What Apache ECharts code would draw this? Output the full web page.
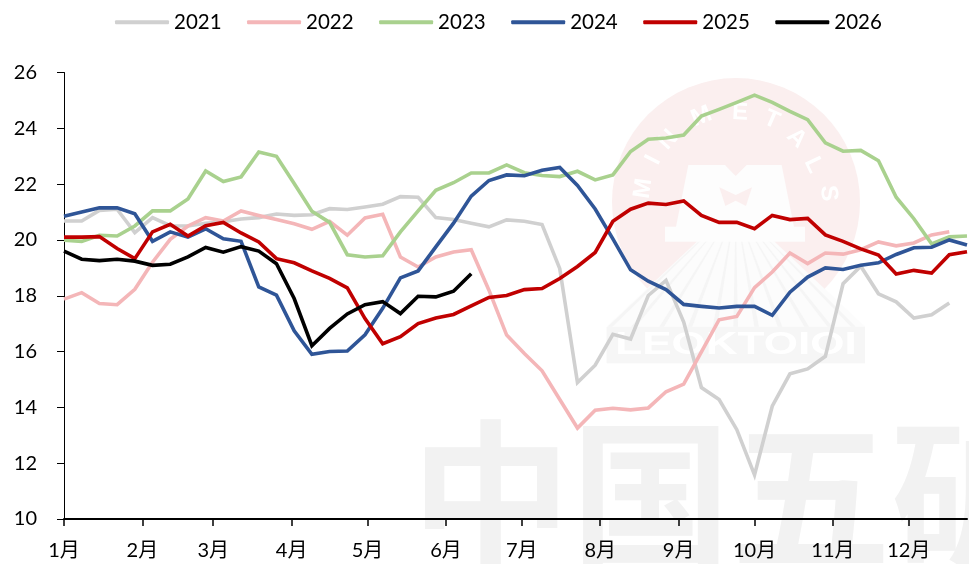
<!DOCTYPE html>
<html><head><meta charset="utf-8">
<style>html,body{margin:0;padding:0;background:#fff}#c{width:969px;height:564px}</style>
<script src="https://cdn.jsdelivr.net/npm/echarts@6/dist/echarts.min.js"></script>
</head><body><div id="c"></div>
<script>
const monthLabels=['1月','2月','3月','4月','5月','6月','7月','8月','9月','10月','11月','12月'];
const monthStartDays=[0,31,59,90,120,151,181,212,243,273,304,334];
const years=['2021','2022','2023','2024','2025','2026'];
const v2021=[20.68,20.68,21.06,21.1,20.26,20.8,20.51,20.5,20.6,20.65,20.75,20.8,20.93,20.88,20.9,21.12,21.09,21.18,21.28,21.55,21.53,20.8,20.73,20.6,20.47,20.72,20.67,20.55,18.97,14.89,15.51,16.62,16.45,18.01,18.55,17.06,14.71,14.28,13.2,11.58,14.04,15.2,15.38,15.83,18.43,19.06,18.07,17.78,17.2,17.32,17.74];
const v2022=[17.88,18.11,17.72,17.68,18.23,19.2,20.02,20.5,20.8,20.68,21.04,20.88,20.73,20.58,20.38,20.67,20.17,20.79,20.92,19.39,19.03,19.39,19.57,19.65,18.2,16.59,15.93,15.31,14.28,13.26,13.9,13.97,13.91,13.98,14.56,14.83,15.99,17.14,17.26,18.29,18.85,19.53,19.15,19.53,19.49,19.65,19.93,19.79,19.89,20.18,20.29];
const v2023=[19.99,19.95,20.17,20.14,20.5,21.04,21.04,21.47,22.47,22.09,22.26,23.15,23.0,22.02,21.03,20.63,19.47,19.39,19.43,20.29,21.04,21.78,22.05,22.4,22.4,22.69,22.41,22.31,22.27,22.46,22.15,22.33,23.17,23.61,23.65,23.76,24.44,24.68,24.93,25.19,24.93,24.61,24.31,23.48,23.18,23.21,22.84,21.53,20.76,19.86,20.11,20.14];
const v2024=[20.85,21.0,21.15,21.15,20.94,19.95,20.29,20.1,20.4,20.04,19.95,18.32,18.02,16.74,15.9,16.0,16.02,16.6,17.55,18.64,18.89,19.75,20.6,21.57,22.13,22.33,22.3,22.5,22.6,21.95,21.11,20.04,18.93,18.52,18.22,17.69,17.62,17.56,17.62,17.62,17.3,18.13,18.67,19.0,18.94,19.09,19.18,19.48,19.72,19.74,20.0,19.82];
const v2025=[20.1,20.1,20.12,19.69,19.33,20.29,20.56,20.14,20.51,20.63,20.25,19.93,19.33,19.18,18.89,18.62,18.28,17.18,16.28,16.53,17.0,17.2,17.33,17.64,17.94,18.01,18.22,18.26,18.62,19.05,19.55,20.67,21.1,21.32,21.27,21.4,20.88,20.63,20.63,20.4,20.88,20.73,20.77,20.18,19.95,19.68,19.46,18.78,18.91,18.81,19.47,19.58];
const v2026=[19.6,19.31,19.26,19.31,19.24,19.09,19.13,19.39,19.73,19.56,19.76,19.6,19.15,17.9,16.21,16.83,17.35,17.68,17.79,17.36,17.98,17.96,18.16,18.79];
const allValues=[v2021,v2022,v2023,v2024,v2025,v2026];
const colors=['#D0D0D0','#F4B6B8','#A9D18E','#2F5597','#C00000','#000000'];
const DAYS_PER_POINT=7;
const FONT="Lato,'Noto Sans CJK SC',sans-serif";

const p=(zx,zy)=>[590+zx/3,70+zy/3];
const poly=(pts,fill,z)=>({type:'polygon',silent:true,z:z,shape:{points:pts.map(a=>p(a[0],a[1]))},style:{fill:fill}});
const wm=[];
wm.push({type:'circle',silent:true,z:0,shape:{cx:736,cy:202,r:124},style:{fill:'#FBEFEF'}});
wm.push(poly([[437,405],[825,770],[825,880],[50,880],[50,770]],'#FCFCFC',1));
wm.push(poly([[50,770],[825,770],[825,880],[50,880]],'#F6F6F6',1));
[60,130,215,300,375,437,500,570,650,720,790].forEach(b=>{
  wm.push(poly([[437,410],[b-7,770],[b+7,770]],'#F5F5F5',1));
});
wm.push(poly([[225,515],[225,470],[258,470],[295,285],[405,285],[437,318],[470,285],[575,285],[612,470],[645,470],[645,515]],'#FDFDFD',1));
wm.push(poly([[388,352],[437,375],[486,352],[468,408],[437,392],[406,408]],'#FBEFEF',1));
const logoLetters=[['M',160,355],['I',190,270],['N',235,210],['M',335,140],['E',450,128],['T',545,150],['A',620,205],['L',670,285],['S',715,370]];
logoLetters.forEach(l=>{
  const c=p(l[1],l[2]);
  const ang=Math.atan2(l[1]-437,395-l[2]);
  wm.push({type:'text',silent:true,z:1,x:c[0],y:c[1],rotation:-ang,style:{text:l[0],fill:'#FFFFFF',font:"bold 24px 'Liberation Sans'",align:'center',verticalAlign:'middle'}});
});
wm.push({type:'text',silent:true,z:1,x:736,y:345,scaleX:1.42,style:{text:'LEOKTOIOI',fill:'#FFFFFF',font:"bold 31px 'Liberation Sans'",align:'center',verticalAlign:'middle'}});
wm.push({type:'text',silent:true,z:0,x:411,y:495,style:{text:'中国五矿',fill:'#F2F2F2',font:"bold 160px 'Noto Sans CJK SC'",align:'left',verticalAlign:'middle'}});

const chart=echarts.init(document.getElementById('c'),null,{renderer:'canvas'});
chart.setOption({
  animation:false,
  backgroundColor:'#fff',
  graphic:{elements:wm},
  grid:{left:64,right:2,top:72.5,bottom:45},
  legend:{left:110,top:7,icon:'roundRect',itemWidth:54,itemHeight:4,itemGap:25.5,
    textStyle:{fontFamily:FONT,fontSize:20.5,color:'#000'},
    data:years},
  xAxis:{type:'value',min:0,max:DAYS_PER_POINT*51,splitLine:{show:false},
    axisLine:{show:true,onZero:false,lineStyle:{color:'#000',width:2}},
    axisTick:{show:true,length:7,lineStyle:{color:'#000',width:1.5},customValues:monthStartDays},
    axisLabel:{show:true,margin:22,fontFamily:FONT,fontSize:20,color:'#000',hideOverlap:false,
      customValues:monthStartDays,
      formatter:v=>monthLabels[monthStartDays.indexOf(v)]}},
  yAxis:{type:'value',min:10,max:26,interval:2,splitLine:{show:false},
    axisLine:{show:true,onZero:false,lineStyle:{color:'#000',width:1}},
    axisTick:{show:true,length:7,lineStyle:{color:'#000',width:1}},
    axisLabel:{margin:27,fontFamily:FONT,fontSize:20,color:'#000'}},
  series:years.map((y,k)=>({
    name:y,type:'line',symbol:'none',smooth:false,clip:false,z:2+k,
    lineStyle:{color:colors[k],width:3.6,join:'miter'},
    itemStyle:{color:colors[k]},
    data:allValues[k].map((v,i)=>[i*DAYS_PER_POINT,v])
  }))
});
</script></body></html>
